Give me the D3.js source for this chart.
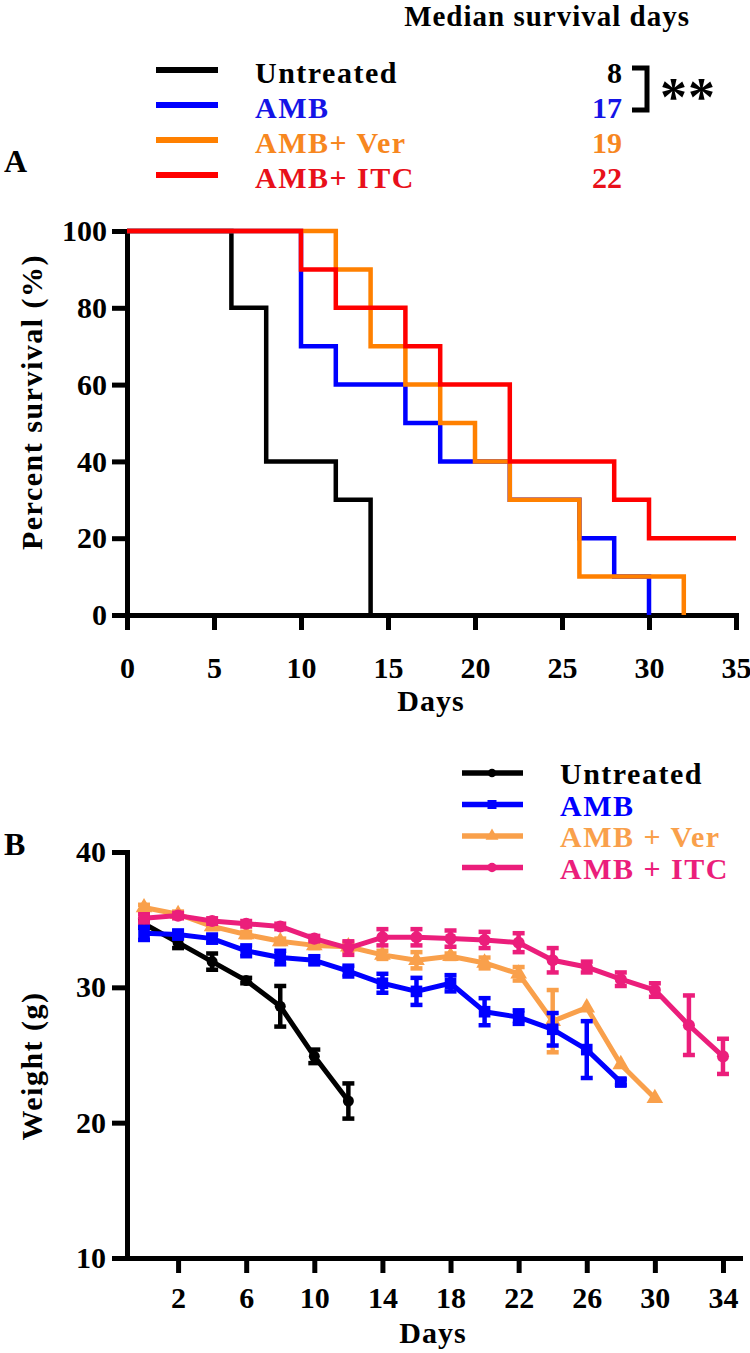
<!DOCTYPE html>
<html><head><meta charset="utf-8">
<script src="https://cdn.jsdelivr.net/npm/d3@7"></script>
<style>
body{margin:0;background:#fff}
svg{display:block}
text{font-family:'Liberation Serif','Times New Roman',serif;font-weight:bold}
</style>
</head><body>
<svg id="c" width="750" height="1353"></svg>
<script>
// ---------- Panel A data (Kaplan–Meier) ----------
const groupsA = ["Untreated", "AMB", "AMB+ Ver", "AMB+ ITC"];
const medianDays = [8, 17, 19, 22];
const untreatedDaysA = [0, 6, 8, 12, 14];
const untreatedSurv  = [100, 80, 40, 30, 0];
const ambDaysA = [0, 10, 12, 16, 18, 22, 26, 28, 30];
const ambSurv  = [100, 70, 60, 50, 40, 30, 20, 10, 0];
const verDaysA = [0, 12, 14, 16, 18, 20, 22, 26, 32];
const verSurv  = [100, 90, 70, 60, 50, 40, 30, 10, 0];
const itcDaysA = [0, 10, 12, 16, 18, 22, 28, 30, 35];
const itcSurv  = [100, 90, 80, 70, 60, 40, 30, 20, 20];
const xTicksA = [0, 5, 10, 15, 20, 25, 30, 35];
const yTicksA = [0, 20, 40, 60, 80, 100];

// ---------- Panel B data (body weight, mean ± SEM) ----------
const groupsB = ["Untreated", "AMB", "AMB + Ver", "AMB + ITC"];
const daysB = [0, 2, 4, 6, 8, 10, 12, 14, 16, 18, 20, 22, 24, 26, 28, 30, 32, 34];
const untreatedW   = [34.7, 33.3, 31.9, 30.5, 28.6, 24.9, 21.6];
const untreatedSem = [0.3, 0.4, 0.6, 0.2, 1.5, 0.5, 1.3];
const ambW   = [34.0, 33.9, 33.6, 32.7, 32.2, 32.0, 31.2, 30.3, 29.7, 30.3, 28.2, 27.8, 26.9, 25.4, 23.0];
const ambSem = [0.5, 0.3, 0.3, 0.4, 0.5, 0.3, 0.4, 0.7, 1.0, 0.6, 1.0, 0.5, 1.2, 2.1, 0.2];
const verW   = [35.9, 35.4, 34.5, 33.9, 33.4, 33.1, 33.0, 32.4, 32.0, 32.3, 31.8, 31.0, 27.5, 28.5, 24.3, 21.8];
const verSem = [0.2, 0.2, 0.2, 0.2, 0.2, 0.2, 0.3, 0.3, 0.6, 0.2, 0.4, 0.5, 2.3, 0, 0, 0];
const itcW   = [35.1, 35.3, 34.9, 34.7, 34.5, 33.6, 32.9, 33.7, 33.7, 33.6, 33.5, 33.3, 32.0, 31.5, 30.6, 29.8, 27.2, 24.9];
const itcSem = [0.3, 0.2, 0.2, 0.2, 0.2, 0.2, 0.5, 0.6, 0.6, 0.6, 0.6, 0.7, 0.9, 0.4, 0.5, 0.5, 2.2, 1.3];
const xTicksB = [2, 6, 10, 14, 18, 22, 26, 30, 34];
const yTicksB = [10, 20, 30, 40];

// ---------- styling ----------
const colA = ["#000000", "#0000ff", "#ff8000", "#ff0000"];
const txtA = ["#000000", "#1414e6", "#f7871f", "#e8101a"];
const colB = ["#000000", "#0000ff", "#f9a04b", "#eb1e7b"];

const svg = d3.select("#c");

function styleAxis(g, fs) {
  g.select(".domain").attr("stroke", "#000").attr("stroke-width", 5).attr("stroke-linecap", "square");
  g.selectAll(".tick line").attr("stroke", "#000").attr("stroke-width", 5);
  g.selectAll(".tick text").attr("fill", "#000").style("font-size", fs + "px")
    .style("font-family", "'Liberation Serif','Times New Roman',serif").style("font-weight", "bold");
}

// ================= PANEL A =================
const xA = d3.scaleLinear().domain([0, 35]).range([127, 736]);
const yA = d3.scaleLinear().domain([0, 100]).range([615, 231]);

// title + legend
svg.append("text").attr("x", 690).attr("y", 26).attr("text-anchor", "end")
  .style("font-size", "29px").style("letter-spacing", "1px").text("Median survival days");

groupsA.forEach((g, i) => {
  const ly = 70 + i * 35;
  svg.append("line").attr("x1", 156).attr("x2", 218).attr("y1", ly).attr("y2", ly)
    .attr("stroke", colA[i]).attr("stroke-width", 6);
  svg.append("text").attr("x", 255).attr("y", ly + 13).attr("fill", txtA[i])
    .style("font-size", "30px").style("letter-spacing", "1.5px").text(g);
  svg.append("text").attr("x", 622).attr("y", ly + 13).attr("fill", txtA[i])
    .attr("text-anchor", "end").style("font-size", "30px").text(medianDays[i]);
});
svg.append("path").attr("d", "M632,68H647V110H632").attr("fill", "none")
  .attr("stroke", "#000").attr("stroke-width", 5);
svg.append("text").attr("x", 660).attr("y", 115).style("font-size", "54px").style("letter-spacing", "1px").text("**");

svg.append("text").attr("x", 4).attr("y", 172).style("font-size", "32px").text("A");

// axes
const axA_y = svg.append("g").attr("transform", "translate(127,0)")
  .call(d3.axisLeft(yA).tickValues(yTicksA).tickSize(15).tickPadding(5).tickSizeOuter(0));
styleAxis(axA_y, 30);
const axA_x = svg.append("g").attr("transform", "translate(0,615)")
  .call(d3.axisBottom(xA).tickValues(xTicksA).tickSize(15).tickPadding(27).tickSizeOuter(0));
styleAxis(axA_x, 30);

svg.append("text").attr("text-anchor", "middle")
  .attr("transform", "translate(42,402) rotate(-90)")
  .style("font-size", "30px").style("letter-spacing", "1.5px").text("Percent survival (%)");
svg.append("text").attr("x", 431).attr("y", 711).attr("text-anchor", "middle")
  .style("font-size", "30px").style("letter-spacing", "1px").text("Days");

// KM step curves
const kmSeries = [
  [untreatedDaysA, untreatedSurv],
  [ambDaysA, ambSurv],
  [verDaysA, verSurv],
  [itcDaysA, itcSurv]
];
const stepLine = d3.line().x(d => xA(d[0])).y(d => yA(d[1])).curve(d3.curveStepAfter);
kmSeries.forEach(([ds, ss], i) => {
  const pts = ds.map((d, k) => [d, ss[k]]);
  svg.append("path").attr("d", stepLine(pts)).attr("fill", "none")
    .attr("stroke", colA[i]).attr("stroke-width", 4.5).attr("stroke-linejoin", "miter");
});

// ================= PANEL B =================
const xB = d3.scaleLinear().domain([-1, 35]).range([127, 740]);
const yB = d3.scaleLinear().domain([10, 40]).range([1258, 852]);

svg.append("text").attr("x", 4).attr("y", 855).style("font-size", "32px").text("B");

const axB_y = svg.append("g").attr("transform", "translate(127,0)")
  .call(d3.axisLeft(yB).tickValues(yTicksB).tickSize(15).tickPadding(6).tickSizeOuter(0));
styleAxis(axB_y, 30);
const axB_x = svg.append("g").attr("transform", "translate(0,1258)")
  .call(d3.axisBottom(xB).tickValues(xTicksB).tickSize(15).tickPadding(14).tickSizeOuter(0));
styleAxis(axB_x, 30);

svg.append("text").attr("text-anchor", "middle")
  .attr("transform", "translate(42,1066) rotate(-90)")
  .style("font-size", "30px").style("letter-spacing", "1.5px").text("Weight (g)");
svg.append("text").attr("x", 433).attr("y", 1343).attr("text-anchor", "middle")
  .style("font-size", "30px").style("letter-spacing", "1px").text("Days");

const seriesB = [
  [untreatedW, untreatedSem],
  [ambW, ambSem],
  [verW, verSem],
  [itcW, itcSem]
];
const shapes = [d3.symbolCircle, d3.symbolSquare, d3.symbolTriangle, d3.symbolCircle];
const sizes = [95, 135, 120, 115];
const lineB = d3.line().x(d => xB(d[0])).y(d => yB(d[1]));
const order = [0, 2, 1, 3];
order.forEach(i => {
  const [w, s] = seriesB[i];
  const pts = w.map((v, k) => [daysB[k], v, s[k]]);
  const g = svg.append("g");
  g.append("path").attr("d", lineB(pts)).attr("fill", "none")
    .attr("stroke", colB[i]).attr("stroke-width", 5).attr("stroke-linejoin", "round");
  pts.forEach(p => {
    if (p[2] > 0) {
      const cx = xB(p[0]);
      g.append("line").attr("x1", cx).attr("x2", cx).attr("y1", yB(p[1] - p[2])).attr("y2", yB(p[1] + p[2]))
        .attr("stroke", colB[i]).attr("stroke-width", 4.5);
      [p[1] - p[2], p[1] + p[2]].forEach(v => {
        g.append("line").attr("x1", cx - 6).attr("x2", cx + 6).attr("y1", yB(v)).attr("y2", yB(v))
          .attr("stroke", colB[i]).attr("stroke-width", 4.5);
      });
    }
    g.append("path").attr("d", d3.symbol().type(shapes[i]).size(sizes[i])())
      .attr("transform", `translate(${xB(p[0])},${yB(p[1])})`).attr("fill", colB[i]);
  });
});

// legend B
groupsB.forEach((g, i) => {
  const ly = 773 + i * 31.5;
  svg.append("line").attr("x1", 462).attr("x2", 523).attr("y1", ly).attr("y2", ly)
    .attr("stroke", colB[i]).attr("stroke-width", 5.5);
  svg.append("path").attr("d", d3.symbol().type(shapes[i]).size(sizes[i] * 0.6)())
    .attr("transform", `translate(492,${ly})`).attr("fill", colB[i]);
  svg.append("text").attr("x", 560).attr("y", ly + 11).attr("fill", colB[i])
    .style("font-size", "30px").style("letter-spacing", "1.5px").text(g);
});
</script>
</body></html>
